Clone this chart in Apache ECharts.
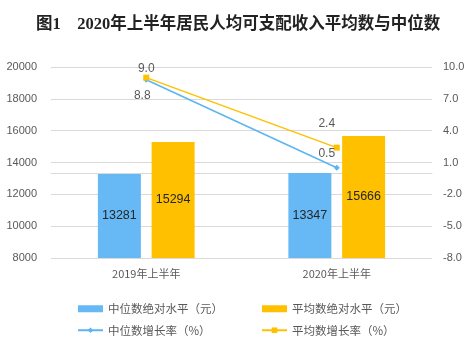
<!DOCTYPE html>
<html><head><meta charset="utf-8">
<script src="https://cdn.jsdelivr.net/npm/echarts@6/dist/echarts.min.js"></script>
<style>html,body{margin:0;padding:0;background:#fff}#c{width:476px;height:349px}</style>
</head><body><div id="c"></div>
<script>
var categories = ['2019年上半年', '2020年上半年'];
var medianLevel = [13281, 13347];
var meanLevel = [15294, 15666];
var medianGrowth = [8.8, 0.5];
var meanGrowth = [9.0, 2.4];
var leftTicks = {min: 8000, max: 20000, interval: 2000};
var rightTicks = {min: -8, max: 10, interval: 3};

var gray = '#595959';
var blue = '#66B9F5', gold = '#FFC000', lineBlue = '#5CB5F0';
var chart = echarts.init(document.getElementById('c'));
chart.setOption({
  animation: false,
  title: {
    text: '图1    2020年上半年居民人均可支配收入平均数与中位数',
    left: 'center', top: 11,
    textStyle: {fontSize: 16.5, fontWeight: 'bold', color: '#222', fontFamily: 'Liberation Serif, Noto Sans CJK SC'}
  },
  grid: {left: 51, right: 44, top: 67, bottom: 91},
  legend: [
    {orient: 'vertical', left: 77, top: 303, padding: 0, itemWidth: 25, itemHeight: 7, itemGap: 10,
     textStyle: {color: gray, fontSize: 11.5, fontFamily: 'Noto Sans CJK SC'},
     data: [{name: '中位数绝对水平（元）', icon: 'rect'}, {name: '中位数增长率（%）'}]},
    {orient: 'vertical', left: 261, top: 303, padding: 0, itemWidth: 25, itemHeight: 7, itemGap: 10,
     textStyle: {color: gray, fontSize: 11.5, fontFamily: 'Noto Sans CJK SC'},
     data: [{name: '平均数绝对水平（元）', icon: 'rect'}, {name: '平均数增长率（%）'}]}
  ],
  xAxis: {
    type: 'category', data: categories,
    axisLine: {lineStyle: {color: '#d9d9d9'}}, axisTick: {show: false},
    axisLabel: {color: gray, fontSize: 11, margin: 10, fontFamily: 'Noto Sans CJK SC'}
  },
  yAxis: [
    {type: 'value', min: leftTicks.min, max: leftTicks.max, interval: leftTicks.interval,
     axisLine: {show: false}, axisTick: {show: false},
     axisLabel: {color: gray, fontSize: 11, margin: 14, fontFamily: 'Liberation Sans',
       formatter: function (v) { return String(v); }},
     splitLine: {lineStyle: {color: '#d9d9d9'}}},
    {type: 'value', min: rightTicks.min, max: rightTicks.max, interval: rightTicks.interval,
     axisLine: {show: false}, axisTick: {show: false}, splitLine: {show: false},
     axisLabel: {color: gray, fontSize: 11, margin: 11, fontFamily: 'Liberation Sans',
       formatter: function (v) { return v.toFixed(1); }}}
  ],
  series: [
    {name: '中位数绝对水平（元）', type: 'bar', data: medianLevel, barWidth: 43, barGap: '25%',
     itemStyle: {color: blue},
     label: {show: true, position: 'inside', color: '#262626', fontSize: 12.5, fontFamily: 'Liberation Sans'}},
    {name: '平均数绝对水平（元）', type: 'bar', data: meanLevel, barWidth: 43, barGap: '25%',
     itemStyle: {color: gold},
     label: {show: true, position: 'inside', color: '#262626', fontSize: 12.5, fontFamily: 'Liberation Sans'}},
    {name: '中位数增长率（%）', type: 'line', yAxisIndex: 1, data: [
       {value: medianGrowth[0], label: {position: 'bottom', offset: [-4, 2]}},
       {value: medianGrowth[1], label: {position: 'top', offset: [-10, 0]}}],
     symbol: 'diamond', symbolSize: 6, lineStyle: {color: lineBlue, width: 1.5}, itemStyle: {color: lineBlue},
     label: {show: true, color: gray, fontSize: 12, fontFamily: 'Liberation Sans', formatter: function (p) { return p.value.toFixed(1); }}},
    {name: '平均数增长率（%）', type: 'line', yAxisIndex: 1, data: [
       {value: meanGrowth[0], label: {position: 'top', offset: [0, 5]}},
       {value: meanGrowth[1], label: {position: 'top', offset: [-10, -10]}}],
     symbol: 'rect', symbolSize: 6, lineStyle: {color: gold, width: 1.5}, itemStyle: {color: gold},
     label: {show: true, color: gray, fontSize: 12, fontFamily: 'Liberation Sans', formatter: function (p) { return p.value.toFixed(1); }}}
  ]
});
</script></body></html>
